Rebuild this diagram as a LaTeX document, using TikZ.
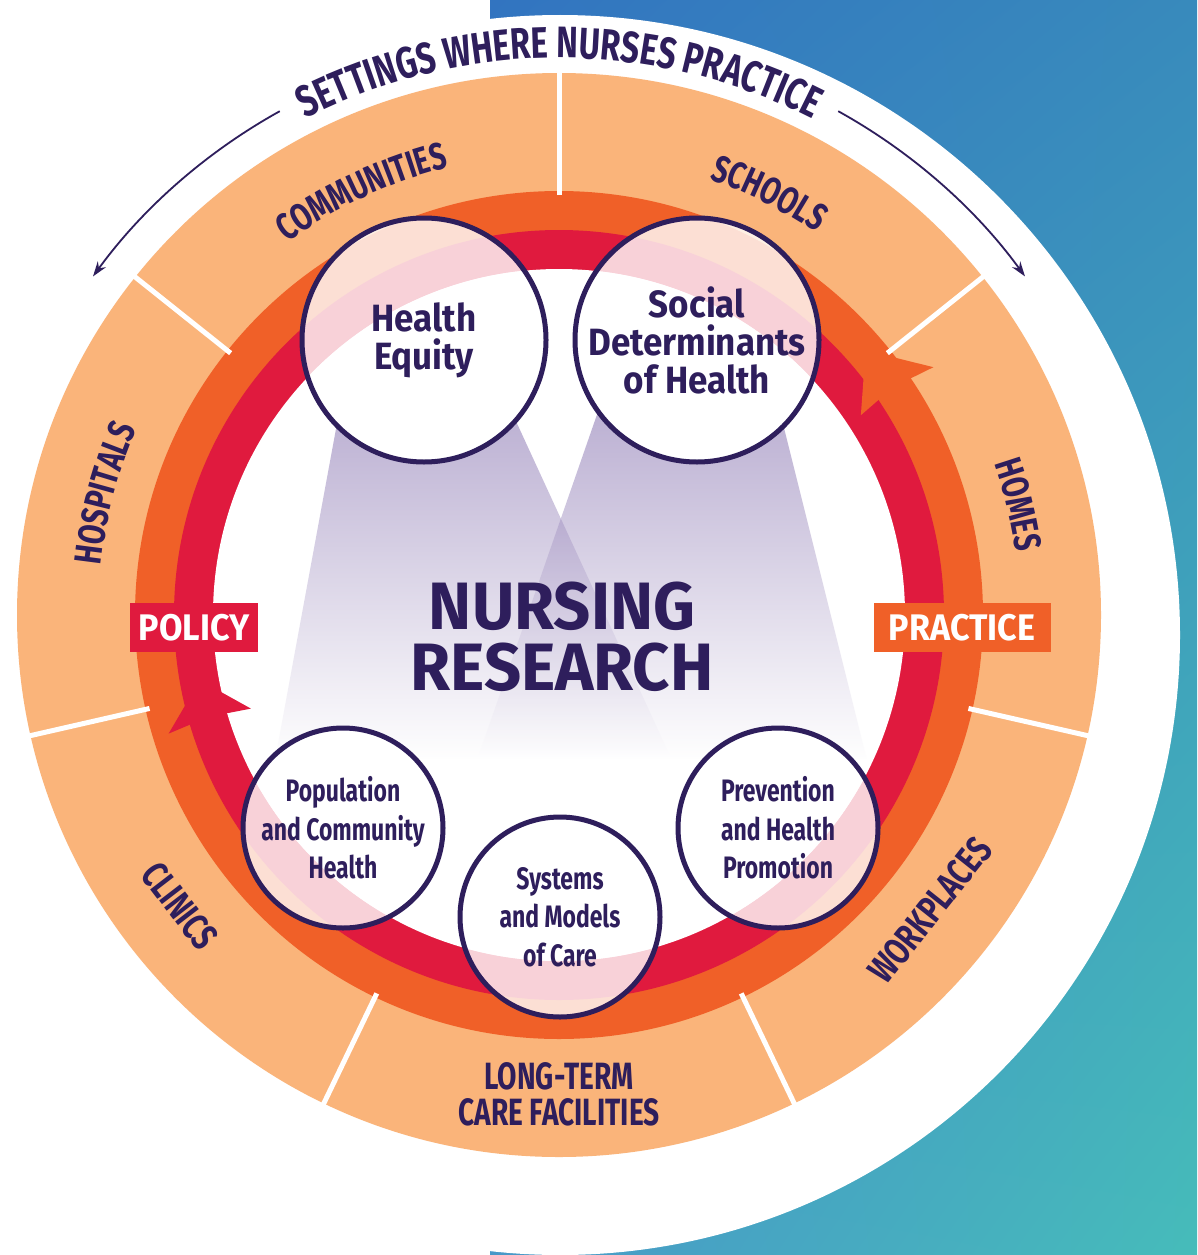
\documentclass[tikz,border=0pt]{standalone}
\usepackage{fontspec}
\usetikzlibrary{arrows.meta, positioning, calc, decorations.text, shadings}

\newfontfamily\condfont[FakeStretch=0.74]{Fira Sans}
\newfontfamily\headfont[FakeStretch=0.92]{Fira Sans}
\newfontfamily\bigfont[FakeStretch=0.97]{Fira Sans}

\definecolor{inkpurple}{RGB}{46, 30, 92}
\definecolor{peach}{RGB}{250, 180, 122}
\definecolor{ringorange}{RGB}{240, 96, 40}
\definecolor{ringred}{RGB}{224, 26, 62}
\definecolor{beampurple}{RGB}{110, 85, 160}
\definecolor{bgtl}{RGB}{50, 116, 192}
\definecolor{bgtr}{RGB}{56, 138, 188}
\definecolor{bgbl}{RGB}{72, 152, 200}
\definecolor{bgbr}{RGB}{70, 188, 186}

\newcommand{\ringfont}{\condfont\bfseries\fontsize{38}{38}\selectfont}
\newcommand{\titlefont}{\condfont\bfseries\fontsize{44}{44}\selectfont}

\tikzset{
  ringtext/.style={decorate, decoration={text along path, text align=center,
      text color=inkpurple, text={#1}}},
  ringlabel/.style={text=inkpurple, inner sep=0, font=\ringfont},
  topic/.style={circle, draw=inkpurple, line width=5, fill=white, fill opacity=0.8,
      text opacity=1, text=inkpurple, align=center, inner sep=0},
  bigtopic/.style={topic, minimum size=244, font=\headfont\bfseries\fontsize{38}{38}\selectfont},
  smalltopic/.style={topic, minimum size=200, font=\condfont\bfseries\fontsize{31}{38.5}\selectfont},
  tag/.style={text=white, minimum height=49, inner sep=0,
      font=\headfont\bfseries\fontsize{37}{37}\selectfont},
  titlearrow/.style={inkpurple, line width=1.8, -{Stealth[length=15, width=10]}}
}

\begin{document}
\begin{tikzpicture}[x=1pt, y=1pt]
  \useasboundingbox (0,0) rectangle (1197,-1255);

  % background
  \shade[upper left=bgtl, upper right=bgtr, lower left=bgbl, lower right=bgbr]
    (490,0) rectangle (1197,-1255);
  \fill[white] (0,0) rectangle (490,-1255);
  \fill[white] (560,-635) circle (620);

  % rings
  \coordinate (C) at (559,-615);
  \fill[peach] (C) circle (542);
  \fill[ringorange] (C) circle (424);
  \fill[ringred] (C) circle (385);
  \fill[white] (C) circle (346);
  \foreach \k in {0,...,6}
    \draw[white, line width=5] ([shift={(90+\k*360/7:420)}]C) -- ([shift={(90+\k*360/7:545)}]C);

  % arrow heads on the rings
  \fill[ringorange] ([shift={(40.8:405)}]C) -- ([shift={(33.5:449)}]C)
    -- ([shift={(34.3:405)}]C) -- ([shift={(33.5:362)}]C) -- cycle;
  \fill[ringred] ([shift={(190.3:365)}]C) -- ([shift={(196.9:408)}]C)
    -- ([shift={(196.2:365)}]C) -- ([shift={(196.9:322)}]C) -- cycle;

  % beams
  \begin{scope}
    \clip (C) circle (346);
    \shade[top color=beampurple, middle color=beampurple!75!white, bottom color=white, opacity=0.5]
      (345,-380) -- (497,-380) -- (672,-760) -- (275,-760) -- cycle;
    \shade[top color=beampurple, middle color=beampurple!75!white, bottom color=white, opacity=0.5]
      (609,-380) -- (772,-380) -- (867,-760) -- (477,-760) -- cycle;
  \end{scope}

  % topic circles
  \coordinate (heC) at (424,-340);
  \coordinate (sdC) at (697,-340);
  \coordinate (pcC) at (343,-828);
  \coordinate (smC) at (560,-917);
  \coordinate (phC) at (778,-828);
  \begin{scope}
    \clip (C) circle (346);
    \foreach \c/\r in {heC/122, sdC/122, pcC/100, smC/100, phC/100}
      \fill[white] (\c) circle (\r);
  \end{scope}
  \node[bigtopic] (equity) at (heC) {Health\\Equity};
  \node[bigtopic] (social) at (sdC) {Social\\Determinants\\of Health};
  \node[smalltopic] (population) at (pcC) {Population\\and Community\\Health};
  \node[smalltopic] (systems) at (smC) {Systems\\and Models\\of Care};
  \node[smalltopic] (prevention) at (phC) {Prevention\\and Health\\Promotion};

  \node[text=inkpurple, align=center, font=\bigfont\bfseries\fontsize{67}{61}\selectfont]
    (research) at (562,-636.5) {NURSING\\RESEARCH};

  \node[tag, fill=ringred, minimum width=128] (policy) at (194,-627.5) {POLICY};
  \node[tag, fill=ringorange, minimum width=177] (practice) at (962,-627.5) {PRACTICE};

  % settings
  \path[ringtext={|\ringfont|COMMUNITIES}] ([shift={(145:461)}]C) arc[start angle=145, end angle=85, radius=461];
  \path[ringtext={|\ringfont|SCHOOLS}] ([shift={(93.5:461)}]C) arc[start angle=93.5, end angle=33.5, radius=461];
  \path[ringtext={|\ringfont|HOMES}] ([shift={(43.5:461)}]C) arc[start angle=43.5, end angle=-16.5, radius=461];
  \path[ringtext={|\ringfont|HOSPITALS}] ([shift={(195:461)}]C) arc[start angle=195, end angle=135, radius=461];
  \node[ringlabel, rotate=51.5] (workplaces) at ([shift={(321.5:474)}]C) {WORKPLACES};
  \node[ringlabel, rotate=-52.5] (clinics) at ([shift={(217.5:478)}]C) {CLINICS};
  \node[ringlabel] (longterm) at ([shift={(270:461)}]C) {LONG-TERM};
  \node[ringlabel] (carefac) at ([shift={(270:497)}]C) {CARE FACILITIES};

  % title
  \path[ringtext={|\titlefont|SETTINGS WHERE NURSES PRACTICE}] ([shift={(130:557)}]C) arc[start angle=130, end angle=50, radius=557];
  \draw[titlearrow] ([shift={(119:576)}]C) arc[start angle=119, end angle=144, radius=576];
  \draw[titlearrow] ([shift={(61:576)}]C) arc[start angle=61, end angle=36, radius=576];
\end{tikzpicture}
\end{document}
